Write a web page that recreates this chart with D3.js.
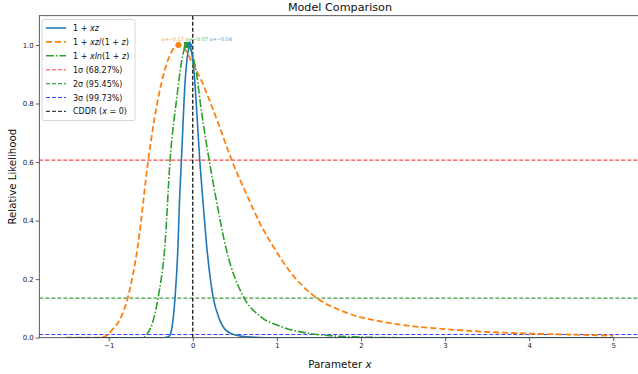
<!DOCTYPE html>
<html><head><meta charset="utf-8">
<script src="https://cdn.jsdelivr.net/npm/d3@7/dist/d3.min.js"></script>
<style>body{margin:0;background:#fff}svg{display:block;font-family:"DejaVu Sans",sans-serif}</style>
</head><body><svg id="c" width="638" height="374"></svg>
<script>
// ---- data ----
const xLinear = [-1.5,-0.35,-0.3,-0.27,-0.24,-0.21,-0.175,-0.16,-0.135,-0.09,-0.06,-0.036,-0.01,0.02,0.05,0.083,0.12,0.17,0.24,0.32,0.44,0.64,1.0,5.0];
const yLinear = [0,0,0.002,0.01,0.05,0.14,0.32,0.45,0.606,0.88,0.97,1.0,0.97,0.89,0.76,0.606,0.47,0.30,0.141,0.061,0.016,0.003,0,0];

const xRatio = [-1.5,-1.1,-1.01,-0.95,-0.87,-0.77,-0.65,-0.53,-0.43,-0.31,-0.17,-0.08,0.0,0.1,0.2,0.3,0.4,0.5,0.64,0.8,0.96,1.2,1.43,1.83,2.23,2.62,3.02,3.42,4.0,4.45,5.0];
const yRatio = [0,0,0.01,0.03,0.06,0.14,0.32,0.606,0.79,0.936,1.0,0.98,0.935,0.88,0.81,0.735,0.655,0.58,0.49,0.39,0.31,0.21,0.145,0.085,0.056,0.039,0.029,0.021,0.014,0.011,0.007];

const xLog = [-1.5,-0.6,-0.55,-0.48,-0.41,-0.33,-0.27,-0.19,-0.115,-0.07,-0.02,0.04,0.10,0.195,0.28,0.40,0.60,0.80,1.04,1.35,1.63,2.0,2.5,5.0];
const yLog = [0,0,0.01,0.05,0.14,0.32,0.606,0.82,0.97,1.0,0.98,0.91,0.78,0.606,0.47,0.30,0.141,0.073,0.039,0.016,0.007,0.002,0,0];

const peakX = [-0.036,-0.17,-0.07];
const peakLabels = ["x=−0.04","x=−0.17","x=−0.07"];
const sigmaLevels = [0.6065,0.1353,0.0111];
const sigmaLabels = ["1σ (68.27%)","2σ (95.45%)","3σ (99.73%)"];
const xTicks = [-1,0,1,2,3,4,5];
const yTicks = [0,0.2,0.4,0.6,0.8,1.0];

// ---- layout ----
const svg = d3.select("#c");
const L = 39.3, R = 640.6, T = 15.7, B = 337.7;
const x = d3.scaleLinear().domain([-1.825,5.325]).range([L,R]);
const y = d3.scaleLinear().domain([0,1.1]).range([B,T]);
const C = {blue:"#1f77b4",orange:"#ff7f0e",green:"#2ca02c"};

svg.append("defs").append("clipPath").attr("id","clip")
  .append("rect").attr("x",L).attr("y",T).attr("width",R-L).attr("height",B-T);
const plot = svg.append("g").attr("clip-path","url(#clip)");

// sigma reference lines
const sigCols = ["#ff0000","#008000","#0000ff"];
sigmaLevels.forEach((v,i)=>{
  plot.append("line").attr("x1",L).attr("x2",R).attr("y1",y(v)).attr("y2",y(v))
    .attr("stroke",sigCols[i]).attr("stroke-opacity",0.75).attr("stroke-width",1.1)
    .attr("stroke-dasharray","4,2");
});
// CDDR line
plot.append("line").attr("x1",x(0)).attr("x2",x(0)).attr("y1",T).attr("y2",B)
  .attr("stroke","#000").attr("stroke-width",1.2).attr("stroke-dasharray","4,2");

const line = d3.line().x(d=>x(d[0])).y(d=>y(d[1])).curve(d3.curveMonotoneX);
const zip = (a,b)=>a.map((v,i)=>[v,b[i]]);
const series = [
  {xs:xLinear,ys:yLinear,c:C.blue,dash:null,w:1.6},
  {xs:xRatio,ys:yRatio,c:C.orange,dash:"6,3",w:1.8},
  {xs:xLog,ys:yLog,c:C.green,dash:"8,2,1.5,2",w:1.6}
];
[1,2,0].forEach(i=>{
  const s=series[i];
  plot.append("path").datum(zip(s.xs,s.ys)).attr("d",line).attr("fill","none")
    .attr("stroke",s.c).attr("stroke-width",s.w).attr("stroke-dasharray",s.dash);
});

// peak markers
plot.append("circle").attr("cx",x(peakX[1])).attr("cy",y(1)).attr("r",3).attr("fill",C.orange);
plot.append("rect").attr("x",x(peakX[2])-3).attr("y",y(1)-3).attr("width",6).attr("height",6).attr("fill",C.green);
plot.append("path").attr("d",d3.symbol(d3.symbolTriangle,22)()).attr("transform",`translate(${x(peakX[0])},${y(1)})`).attr("fill",C.blue);

// peak annotations, packed side by side above the peaks (no overlap)
const annCols=[C.blue,C.orange,C.green];
const annY = y(1.02)+2;
let cursor = x(peakX[1]) - 17;
[1,2,0].forEach(i=>{
  const t = svg.append("text").attr("x",cursor).attr("y",annY).attr("text-anchor","start")
    .attr("font-size",5).attr("fill",annCols[i]).attr("fill-opacity",0.85).text(peakLabels[i]);
  cursor += t.node().getComputedTextLength() + 1.5;
});

// axes
const xa = svg.append("g").attr("transform",`translate(0,${B})`)
  .call(d3.axisBottom(x).tickValues(xTicks).tickSize(3.5).tickPadding(2).tickFormat(d=>d<0?"−"+Math.abs(d):d));
const ya = svg.append("g").attr("transform",`translate(${L},0)`)
  .call(d3.axisLeft(y).tickValues(yTicks).tickSize(3.5).tickPadding(2).tickFormat(d3.format(".1f")));
[xa,ya].forEach(g=>{
  g.select(".domain").remove();
  g.selectAll("text").attr("font-size",7).attr("fill","#222").attr("font-family","DejaVu Sans");
  g.selectAll("line").attr("stroke","#333").attr("stroke-width",0.8);
});
svg.append("rect").attr("x",L).attr("y",T).attr("width",R-L).attr("height",B-T)
  .attr("fill","none").attr("stroke","#333").attr("stroke-width",0.8);

// labels
svg.append("text").attr("x",(L+R)/2).attr("y",11).attr("text-anchor","middle")
  .attr("font-size",11.2).attr("fill","#111").text("Model Comparison");
const xl = svg.append("text").attr("x",(L+R)/2).attr("y",368).attr("text-anchor","middle")
  .attr("font-size",10.4).attr("fill","#111");
xl.append("tspan").text("Parameter ");
xl.append("tspan").attr("font-style","italic").text("x");
svg.append("text").attr("transform",`translate(16,${(T+B)/2}) rotate(-90)`).attr("text-anchor","middle")
  .attr("font-size",10.2).attr("fill","#111").text("Relative Likelihood");

// legend
const lg = svg.append("g");
lg.append("rect").attr("x",42).attr("y",19.5).attr("width",93).attr("height",101).attr("rx",2)
  .attr("fill","#fff").attr("fill-opacity",0.85).attr("stroke","#ccc").attr("stroke-width",0.8);
const legItems = [
  {c:C.blue,dash:null,w:1.6,parts:[["1 + ",0],["xz",1]]},
  {c:C.orange,dash:"6,3",w:1.8,parts:[["1 + ",0],["xz",1],["/(1 + ",0],["z",1],[")",0]]},
  {c:C.green,dash:"8,2,1.5,2",w:1.6,parts:[["1 + ",0],["xln",1],["(1 + ",0],["z",1],[")",0]]},
  {c:sigCols[0],dash:"4,2",w:1.1,o:0.75,parts:[[sigmaLabels[0],0]]},
  {c:sigCols[1],dash:"4,2",w:1.1,o:0.75,parts:[[sigmaLabels[1],0]]},
  {c:sigCols[2],dash:"4,2",w:1.1,o:0.75,parts:[[sigmaLabels[2],0]]},
  {c:"#000",dash:"4,2",w:1.2,o:0.75,parts:[["CDDR (",0],["x",1],[" = 0)",0]]}
];
legItems.forEach((it,i)=>{
  const yy = 28 + i*13.9;
  lg.append("line").attr("x1",46).attr("x2",66).attr("y1",yy).attr("y2",yy)
    .attr("stroke",it.c).attr("stroke-width",it.w).attr("stroke-dasharray",it.dash)
    .attr("stroke-opacity",it.o||1);
  const t = lg.append("text").attr("x",73).attr("y",yy+3).attr("font-size",8).attr("fill","#111");
  it.parts.forEach(p=>t.append("tspan").attr("font-style",p[1]?"italic":null).text(p[0]));
});
</script></body></html>
